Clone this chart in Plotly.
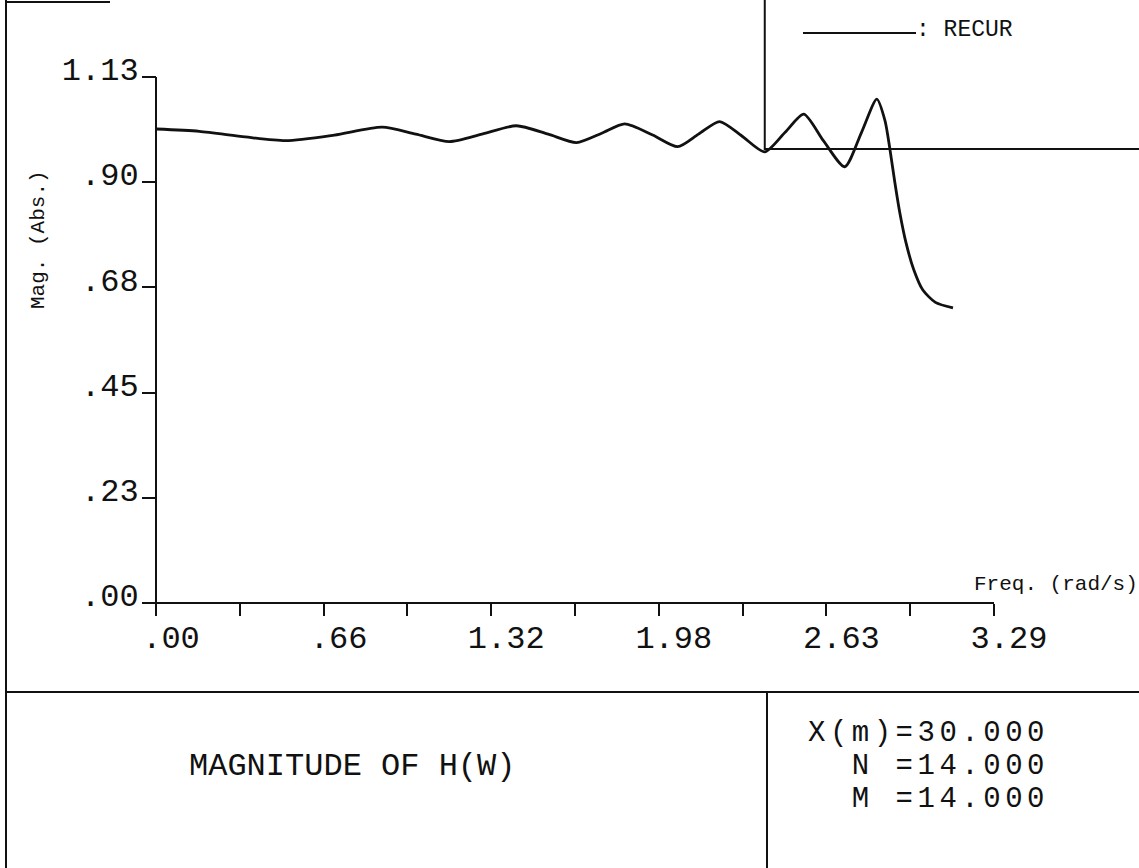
import plotly.graph_objects as go

W, H = 1139, 868

# ---- data ----
freq = [0.00, 0.17, 0.35, 0.51, 0.70, 0.888, 1.02, 1.152, 1.28, 1.415, 1.54, 1.651,
        1.75, 1.84, 1.95, 2.048, 2.13, 2.213, 2.30, 2.39, 2.47, 2.543, 2.62, 2.704,
        2.77, 2.830, 2.862, 2.881, 2.900, 2.920, 2.945, 2.975, 3.010, 3.060, 3.129]
mag = [1.017, 1.012, 1.000, 0.992, 1.004, 1.021, 1.006, 0.990, 1.006, 1.024, 1.006, 0.988,
       1.008, 1.028, 1.004, 0.979, 1.006, 1.033, 1.002, 0.968, 1.010, 1.049, 0.992, 0.936,
       1.010, 1.081, 1.035, 0.975, 0.905, 0.838, 0.772, 0.715, 0.672, 0.645, 0.633]

spec_edge = 2.39     # vertical reference line (rad/s)
spec_level = 0.974   # horizontal reference level

x_tick_vals = [0.0, 0.329, 0.658, 0.987, 1.316, 1.645, 1.974, 2.303, 2.632, 2.961, 3.29]
x_tick_text = [".00", "", ".66", "", "1.32", "", "1.98", "", "2.63", "", "3.29"]
y_tick_vals = [0.0, 0.2257, 0.4514, 0.6771, 0.9029, 1.1286]
y_tick_text = [".00", ".23", ".45", ".68", ".90", "1.13"]

info_lines = ["X(m)=30.000", "  N =14.000", "  M =14.000"]

x_axis_max = 3.29
y_axis_max = 1.1286

# ---- pixel geometry of the plotter page ----
x0_px, x_axis_end_px = 156, 994
y0_px, y_axis_top_px = 603, 77
xs = (x_axis_end_px - x0_px) / x_axis_max
ys = (y0_px - y_axis_top_px) / y_axis_max
xr = [-x0_px / xs, (W - x0_px) / xs]
yr = [-(H - y0_px) / ys, y0_px / ys]

def px(x):
    return x / W

def py(y):
    return 1 - y / H

FONT = "Liberation Mono"
BLACK = "#111111"

fig = go.Figure()

# curve
fig.add_trace(go.Scatter(x=freq, y=mag, mode="lines",
                         line=dict(color=BLACK, width=2.8, shape="spline", smoothing=0.7),
                         showlegend=False, hoverinfo="skip"))
# reference lines
fig.add_trace(go.Scatter(x=[spec_edge, spec_edge, xr[1]], y=[yr[1], spec_level, spec_level],
                         mode="lines", line=dict(color=BLACK, width=2), showlegend=False,
                         hoverinfo="skip"))
# axis lines
fig.add_trace(go.Scatter(x=[0, x_axis_max], y=[0, 0], mode="lines",
                         line=dict(color=BLACK, width=2), showlegend=False, hoverinfo="skip"))
fig.add_trace(go.Scatter(x=[0, 0], y=[0, y_axis_max], mode="lines",
                         line=dict(color=BLACK, width=2), showlegend=False, hoverinfo="skip"))

fig.update_layout(
    width=W, height=H,
    margin=dict(l=0, r=0, t=0, b=0),
    paper_bgcolor="white", plot_bgcolor="white",
    showlegend=False,
    xaxis=dict(range=xr, domain=[0, 1], anchor="free", position=py(y0_px),
               showgrid=False, zeroline=False, showline=False,
               tickmode="array", tickvals=x_tick_vals, ticktext=x_tick_text,
               ticks="outside", ticklen=12, tickwidth=1.5, tickcolor=BLACK,
               ticklabelshift=15, ticklabelstandoff=-6,
               tickfont=dict(family=FONT, size=32, color=BLACK)),
    yaxis=dict(range=yr, domain=[0, 1], anchor="free", position=px(x0_px),
               showgrid=False, zeroline=False, showline=False,
               tickmode="array", tickvals=y_tick_vals, ticktext=y_tick_text,
               ticks="outside", ticklen=14, tickwidth=1.5, tickcolor=BLACK,
               ticklabelshift=-8, ticklabelstandoff=-3,
               tickfont=dict(family=FONT, size=32, color=BLACK)),
)

shapes = [
    # left page border
    dict(type="line", xref="paper", yref="paper", x0=px(6), x1=px(6), y0=0, y1=1,
         line=dict(color=BLACK, width=2)),
    # top-left border stub
    dict(type="line", xref="paper", yref="paper", x0=px(6), x1=px(110), y0=py(2), y1=py(2),
         line=dict(color=BLACK, width=2)),
    # bottom panel separator
    dict(type="line", xref="paper", yref="paper", x0=px(6), x1=1, y0=py(692), y1=py(692),
         line=dict(color=BLACK, width=2)),
    # bottom panel divider
    dict(type="line", xref="paper", yref="paper", x0=px(767), x1=px(767), y0=0, y1=py(692),
         line=dict(color=BLACK, width=2)),
    # legend sample line
    dict(type="line", xref="paper", yref="paper", x0=px(803), x1=px(916), y0=py(33), y1=py(33),
         line=dict(color=BLACK, width=2)),
]
fig.update_layout(shapes=shapes)

ann = [
    dict(text=": RECUR", x=px(914), y=py(30), xanchor="left", yanchor="middle",
         font=dict(family=FONT, size=23, color=BLACK)),
    dict(text="Mag. (Abs.)", x=px(38), y=py(240), xanchor="center", yanchor="middle",
         textangle=-90, font=dict(family=FONT, size=21, color=BLACK)),
    dict(text="Freq. (rad/s)", x=px(972), y=py(584), xanchor="left", yanchor="middle",
         font=dict(family=FONT, size=21, color=BLACK)),
    dict(text="MAGNITUDE OF H(W)", x=px(352), y=py(766), xanchor="center", yanchor="middle",
         font=dict(family=FONT, size=32, color=BLACK)),
]
for i, line in enumerate(info_lines):
    ann.append(dict(text='<span style="letter-spacing:4.5px">' + line.replace(" ", "&nbsp;") + "</span>",
                    x=px(806), y=py(733 + 33 * i), xanchor="left", yanchor="middle",
                    font=dict(family=FONT, size=29, color=BLACK)))
for a in ann:
    a.update(xref="paper", yref="paper", showarrow=False)
fig.update_layout(annotations=ann)

fig.write_html("out.html")
